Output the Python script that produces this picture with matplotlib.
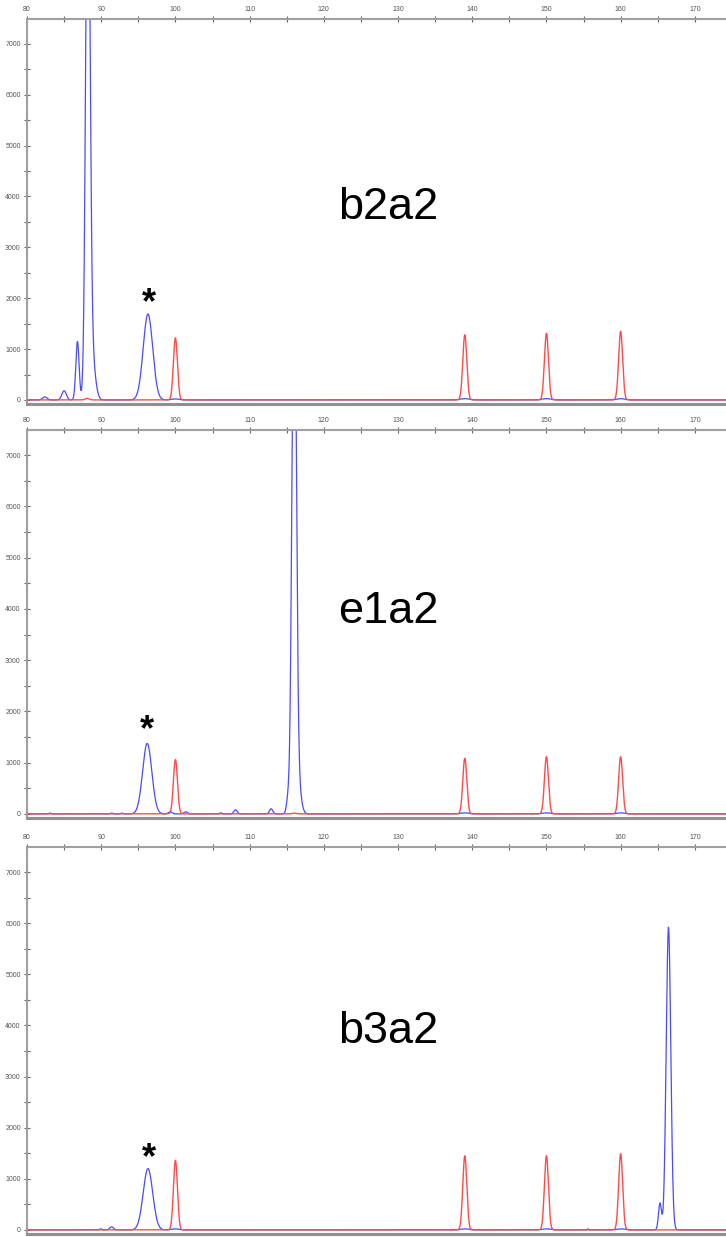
import numpy as np
import matplotlib
matplotlib.use("Agg")
import matplotlib.pyplot as plt
from matplotlib.ticker import MultipleLocator

# ---------------- data (peak lists) ----------
labels = ["b2a2", "e1a2", "b3a2"]

# blue (sample) peaks: centre (size, bp), height (RFU), width (sigma, bp)
blue_pos_1 = [82.4, 85.0, 86.8, 88.2, 88.7, 96.3, 100.0, 139.0, 150.0, 160.0]
blue_h_1   = [60, 180, 1150, 11000, 900, 1690, 20, 25, 25, 25]
blue_w_1   = [0.30, 0.30, 0.22, 0.29, 0.45, 0.64, 0.5, 0.6, 0.6, 0.6]

blue_pos_2 = [83.1, 91.4, 92.8, 96.2, 99.3, 101.4, 106.1, 108.1, 112.9, 115.2, 116.0, 116.5, 139.0, 150.0, 160.0]
blue_h_2   = [15, 15, 15, 1375, 40, 40, 20, 80, 100, 300, 11000, 600, 20, 20, 20]
blue_w_2   = [0.15, 0.15, 0.15, 0.62, 0.25, 0.25, 0.15, 0.22, 0.22, 0.22, 0.29, 0.4, 0.6, 0.6, 0.6]

blue_pos_3 = [89.9, 91.4, 96.3, 100.0, 139.0, 150.0, 155.6, 160.0, 165.3, 166.45]
blue_h_3   = [20, 60, 1200, 20, 20, 20, 20, 20, 520, 5920]
blue_w_3   = [0.15, 0.25, 0.64, 0.5, 0.6, 0.6, 0.08, 0.6, 0.20, 0.31]

# red (size standard) peaks
red_pos_1 = [88.1, 100.0, 139.0, 150.0, 160.0]
red_h_1   = [30, 1220, 1280, 1310, 1350]
red_pos_2 = [116.0, 100.0, 139.0, 150.0, 160.0]
red_h_2   = [15, 1060, 1085, 1115, 1115]
red_pos_3 = [100.0, 139.0, 150.0, 160.0]
red_h_3   = [1360, 1450, 1450, 1490]
red_w = 0.27

star_x = [96.4, 96.2, 96.4]
star_y = [1890, 1620, 1400]
label_y = [3790, 3950, 3890]
label_x = 128.7

panels = [
    (blue_pos_1, blue_h_1, blue_w_1, red_pos_1, red_h_1),
    (blue_pos_2, blue_h_2, blue_w_2, red_pos_2, red_h_2),
    (blue_pos_3, blue_h_3, blue_w_3, red_pos_3, red_h_3),
]

x_ticks = list(range(80, 171, 10))
y_ticks = list(range(0, 7001, 1000))

# ---------------------------------------------------------------------------
plt.rcParams['font.family'] = ['Liberation Sans', 'DejaVu Sans']

W, H = 726, 1237
fig = plt.figure(figsize=(W / 100, H / 100), dpi=100)

# axes boxes in pixels: (top, bottom)
boxes = [(19, 404), (430, 818), (847, 1234)]
left_px = 27

x = np.linspace(79, 176, 8000)


def trace(pos, h, w):
    y = np.zeros_like(x)
    for p, a, s in zip(pos, h, w):
        y += a * np.exp(-0.5 * ((x - p) / s) ** 2)
    return y


for i, (bp, bh, bw, rp, rh) in enumerate(panels):
    top, bot = boxes[i]
    ax = fig.add_axes([left_px / W, 1 - bot / H, 1 - left_px / W, (bot - top) / H])
    yb = trace(bp, bh, bw)
    yr = trace(rp, rh, [red_w] * len(rp))
    ax.plot(x, yb, color='#4a4aff', lw=0.9, zorder=2)
    ax.plot(x, yr, color='#ff4a4a', lw=1.0, zorder=3)

    ax.set_xlim(80, 174.2)
    ax.set_ylim(-80, 7490)

    ax.xaxis.tick_top()
    ax.set_xticks(x_ticks)
    ax.xaxis.set_minor_locator(MultipleLocator(5))
    ax.set_yticks(y_ticks)
    ax.yaxis.set_minor_locator(MultipleLocator(500))
    ax.tick_params(which='both', direction='inout', length=5, width=0.8,
                   color='#666666', labelsize=5, labelcolor='#555555', pad=2)
    ax.tick_params(axis='x', which='both', top=True, bottom=False)
    ax.tick_params(axis='y', which='both', left=True, right=False)

    for s in ['top', 'left']:
        ax.spines[s].set_color('#a0a0a0')
        ax.spines[s].set_linewidth(1.5)
    ax.spines['right'].set_visible(False)
    ax.spines['bottom'].set_color('#909090')
    ax.spines['bottom'].set_linewidth(2.2)

    ax.text(label_x, label_y[i], labels[i], fontsize=32.5, ha='center', va='center',
            color='black')
    ax.text(star_x[i], star_y[i], '*', fontsize=26, ha='center', va='center',
            color='black', fontweight='bold')

fig.savefig('out.png', dpi=100)
